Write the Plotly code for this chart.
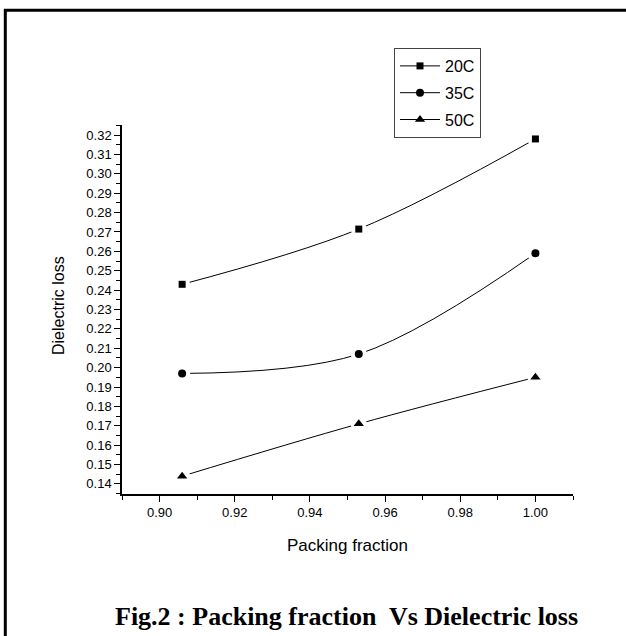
import plotly.graph_objects as go

# Packing fraction (x) and dielectric loss at three temperatures
packing_fraction = [0.906, 0.953, 1.000]
loss_20c = [0.243, 0.2715, 0.318]
loss_35c = [0.197, 0.207, 0.259]
loss_50c = [0.144, 0.171, 0.195]
series_names = ["20C", "35C", "50C"]
series_symbols = ["square", "circle", "triangle-up"]
series_sizes = [7, 8, 9]

W, H = 626, 636
L, R, T, B = 122, 573, 125, 494  # plot area in pixels


def px_x(p):
    return (p - L) / (R - L)


def px_y(p):
    return (B - p) / (B - T)


fig = go.Figure()
series = [loss_20c, loss_35c, loss_50c]

# smooth lines with markers (legend entries)
for i, (name, ys) in enumerate(zip(series_names, series)):
    fig.add_trace(go.Scatter(
        x=packing_fraction, y=ys, name=name, legendgroup=name,
        mode="lines+markers",
        line=dict(color="black", width=1, shape="spline", smoothing=1),
        marker=dict(symbol=series_symbols[i], size=series_sizes[i], color="black"),
    ))

# white halos open a small gap between each point and the curve
for ys in series:
    fig.add_trace(go.Scatter(
        x=packing_fraction, y=ys, mode="markers", showlegend=False,
        hoverinfo="skip",
        marker=dict(symbol="circle", size=16, color="white"),
    ))

for i, ys in enumerate(series):
    fig.add_trace(go.Scatter(
        x=packing_fraction, y=ys, mode="markers", showlegend=False,
        marker=dict(symbol=series_symbols[i], size=series_sizes[i], color="black"),
    ))

axis_font = dict(family="Arial, Liberation Sans, sans-serif", size=13, color="black")

fig.update_xaxes(
    range=[0.89, 1.01], tickmode="linear", tick0=0.90, dtick=0.02,
    tickformat=".2f", ticks="outside", ticklen=6, tickwidth=1.2, tickcolor="black",
    minor=dict(dtick=0.01, tick0=0.90, ticks="outside", ticklen=4, tickwidth=1, tickcolor="black"),
    showline=True, linecolor="black", linewidth=1.5, showgrid=False, zeroline=False,
    tickfont=axis_font,
)
fig.update_yaxes(
    range=[0.1348, 0.3252], tickmode="linear", tick0=0.14, dtick=0.01,
    tickformat=".2f", ticks="outside", ticklen=6, tickwidth=1.2, tickcolor="black",
    minor=dict(dtick=0.005, tick0=0.14, ticks="outside", ticklen=4, tickwidth=1, tickcolor="black"),
    showline=True, linecolor="black", linewidth=1.5, showgrid=False, zeroline=False,
    tickfont=axis_font,
)

annotations = [
    dict(text="Packing fraction", x=px_x(347), y=px_y(545), xref="paper", yref="paper",
         showarrow=False, xanchor="center", yanchor="middle",
         font=dict(family="Arial, Liberation Sans, sans-serif", size=17, color="black")),
    dict(text="Dielectric loss", x=px_x(58), y=px_y(306), xref="paper", yref="paper",
         showarrow=False, xanchor="center", yanchor="middle", textangle=-90,
         font=dict(family="Arial, Liberation Sans, sans-serif", size=16, color="black")),
    dict(text="<b>Fig.2 : Packing fraction  Vs Dielectric loss</b>",
         x=px_x(346.5), y=px_y(616), xref="paper", yref="paper",
         showarrow=False, xanchor="center", yanchor="middle",
         font=dict(family="Times New Roman, Liberation Serif, serif", size=26, color="black")),
]

# frame lines around the figure cell
shapes = [
    dict(type="line", xref="paper", yref="paper", x0=px_x(4), x1=px_x(640),
         y0=px_y(10.3), y1=px_y(10.3), line=dict(color="black", width=3)),
    dict(type="line", xref="paper", yref="paper", x0=px_x(5.3), x1=px_x(5.3),
         y0=px_y(9), y1=px_y(650), line=dict(color="black", width=3)),
]

fig.update_layout(
    width=W, height=H,
    margin=dict(l=L, r=W - R, t=T, b=H - B, autoexpand=False),
    paper_bgcolor="white", plot_bgcolor="white",
    showlegend=True,
    legend=dict(
        x=px_x(394), y=px_y(48), xanchor="left", yanchor="top",
        bordercolor="#444444", borderwidth=1, bgcolor="white",
        font=dict(family="Arial, Liberation Sans, sans-serif", size=16, color="black"),
        tracegroupgap=3, traceorder="grouped", itemwidth=40,
    ),
    annotations=annotations,
    shapes=shapes,
)

fig.write_html("out.html")
